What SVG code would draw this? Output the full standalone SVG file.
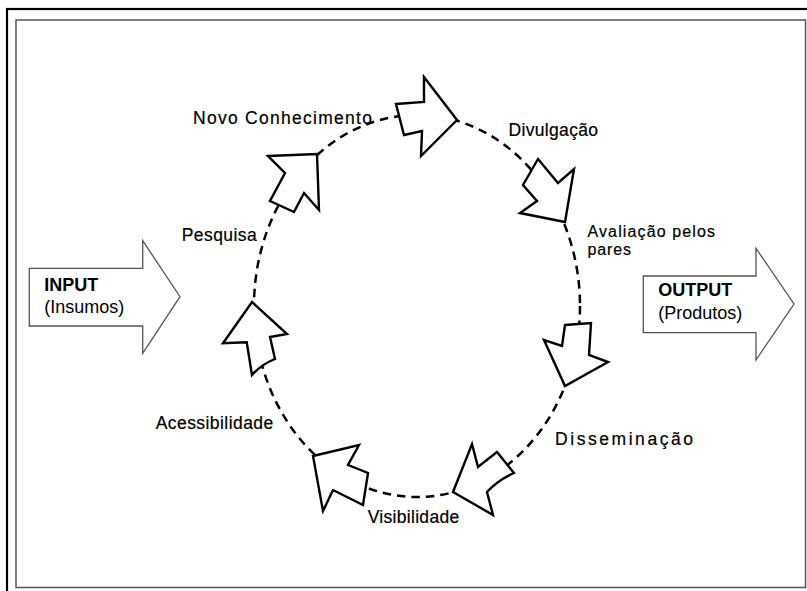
<svg xmlns="http://www.w3.org/2000/svg" width="807" height="591" viewBox="0 0 807 591">
<style>
.step{fill:#fff;stroke:#000;stroke-width:2.4;stroke-linejoin:miter}
.io{fill:#fff;stroke:#555;stroke-width:1.3}
.lbl{font-family:"Liberation Sans",Arial,sans-serif;font-size:17.5px;fill:#000;stroke:#000;stroke-width:0.2}
.sm{font-size:16px}
.big{font-family:"Liberation Sans",Arial,sans-serif;font-size:18px;fill:#000}
.b{font-weight:bold}
</style>
<rect x="0" y="0" width="807" height="591" fill="#fff"/>
<rect x="7" y="9" width="900" height="700" fill="none" stroke="#000" stroke-width="2.2"/>
<rect x="16" y="20" width="789.5" height="567.5" fill="none" stroke="#555" stroke-width="1.5"/>

<g id="connectors">
<ellipse cx="417" cy="306" rx="163" ry="191" fill="none" stroke="#000" stroke-width="2.5" stroke-dasharray="8.5 6"/>
</g>

<g id="input">
<polygon class="io" points="29.3,268.3 142.7,268.3 142.7,240.7 180,296.7 142.7,353.3 142.7,326 29.3,326"/>
<text class="big b" x="44.3" y="290.7">INPUT</text>
<text class="big" x="44.3" y="312.5">(Insumos)</text>
</g>

<g id="output">
<polygon class="io" points="643.3,276 756,276 756,248.3 794,304 756,360 756,332.7 643.3,332.7"/>
<text class="big b" x="658.3" y="296">OUTPUT</text>
<text class="big" x="658.3" y="318.5">(Produtos)</text>
</g>

<g id="arrow-novo">
<polygon class="step" points="396,104 424,102 424,77 457,120 421,156 422,131 404,135"/>
</g>
<g id="arrow-pesquisa">
<polygon class="step" points="268,156 317,154 319,210 304,193 294,212 270,201 285,173"/>
</g>
<g id="arrow-divulgacao">
<polygon class="step" points="538,159 558,183 574,169 565,222 520,213 537,201 523,185"/>
</g>
<g id="arrow-avaliacao">
<polygon class="step" points="565,325 591,323 589,355 608,362 565,386 544,340 562,346"/>
</g>
<g id="arrow-disseminacao">
<path class="step" d="M472,444 L478,467 L497,452 L514,473 Q498,480 487,492 L493,515 L453,492 Z"/>
</g>
<g id="arrow-visibilidade">
<polygon class="step" points="313,456 359,445 348,465 368,473 363,505 333,490 323,511"/>
</g>
<g id="arrow-acessibilidade">
<path class="step" d="M252,302 L287,334 L270,337 L275,359 Q262,364 252,375 L246.7,342.3 L223,343.3 Z"/>
</g>

<g id="label-novo"><text class="lbl" x="193" y="123.5" textLength="179" lengthAdjust="spacing">Novo Conhecimento</text></g>
<g id="label-divulgacao"><text class="lbl" x="508.5" y="135.5" textLength="89.5" lengthAdjust="spacing">Divulgação</text></g>
<g id="label-avaliacao">
<text class="lbl sm" x="587.5" y="236.5" textLength="127.5" lengthAdjust="spacing">Avaliação pelos</text>
<text class="lbl sm" x="587.5" y="254.5" textLength="43.5" lengthAdjust="spacing">pares</text>
</g>
<g id="label-pesquisa"><text class="lbl" x="181.7" y="241" textLength="75" lengthAdjust="spacing">Pesquisa</text></g>
<g id="label-acessibilidade"><text class="lbl" x="155.7" y="428.5" textLength="117.5" lengthAdjust="spacing">Acessibilidade</text></g>
<g id="label-visibilidade"><text class="lbl" x="367.7" y="522.7" textLength="91.5" lengthAdjust="spacing">Visibilidade</text></g>
<g id="label-disseminacao"><text class="lbl" x="555" y="445" textLength="138" lengthAdjust="spacing">Disseminação</text></g>
</svg>
